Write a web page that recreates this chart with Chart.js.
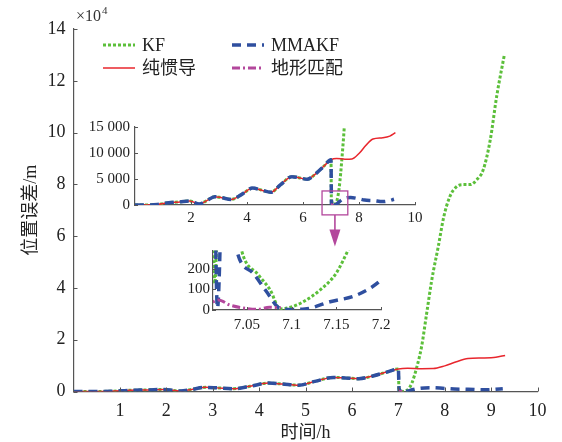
<!DOCTYPE html>
<html><head><meta charset="utf-8">
<script src="https://cdn.jsdelivr.net/npm/chart.js"></script>
<style>
html,body{margin:0;padding:0;background:#fff;}
#wrap{position:relative;width:562px;height:442px;background:#fff;}
#wrap canvas{position:absolute;left:0;top:0;}
</style></head><body>
<div id="wrap">
<canvas id="main" width="562" height="442"></canvas>
<canvas id="inset1" width="562" height="442"></canvas>
<canvas id="inset2" width="562" height="442"></canvas>
</div>
<script>
// ---------------- data (hours, position error in metres) ----------------
const seriesNames = ['KF', '纯惯导', 'MMAKF', '地形匹配'];

// part common to KF, pure INS and MMAKF (identical curves before ~7 h)
const sharedHours = [0, 0.4, 0.8, 1.2, 1.6, 1.95, 2.3, 2.55, 2.85, 3.1, 3.45, 3.8, 4.2, 4.5, 4.85, 5.2, 5.6, 5.85, 6.15, 6.45, 6.75, 7.0];
const sharedErr   = [0, 0, 100, 450, 600, 780, 180, 800, 1600, 1400, 1080, 2000, 3250, 2900, 2440, 3900, 5450, 5250, 4950, 6000, 7500, 8700];

const insHours = [7.2, 7.5, 7.75, 8.0, 8.25, 8.5, 8.85, 9.1, 9.3];
const insErr   = [8950, 8800, 8850, 9900, 11500, 12700, 12950, 13250, 13900];

const kfHours = [7.014, 7.02, 7.044, 7.063, 7.076, 7.087, 7.1, 7.113, 7.132, 7.15, 7.163, 7.2, 7.29, 7.4, 7.5, 7.61, 7.72, 7.86, 7.98, 8.11, 8.26, 8.4, 8.55, 8.69, 8.83, 8.98, 9.12, 9.28];
const kfErr   = [130, 900, 290, 170, 98, 5, 15, 40, 98, 180, 290, 620, 3200, 9600, 17300, 30200, 43100, 56000, 67600, 75300, 79200, 79900, 79900, 81800, 85700, 97200, 114200, 129700];

const mmHours = [7.017, 7.024, 7.0385, 7.057, 7.072, 7.087, 7.1, 7.115, 7.143, 7.173, 7.2, 7.3, 7.45, 7.7, 7.95, 8.2, 8.5, 8.85, 9.05, 9.25];
const mmErr   = [10, 800, 293, 179, 89, 8, 3, 5, 40, 73, 146, 650, 1200, 1450, 1250, 950, 850, 650, 800, 1100];

const tmHours = [7.0, 7.012, 7.018, 7.031, 7.049, 7.062, 7.075, 7.088];
const tmErr   = [25, 40, 49, 24, 8, 3, 13, 11];

// ticks
const mainXTicks = [1, 2, 3, 4, 5, 6, 7, 8, 9, 10];
const mainYTicks = [0, 2, 4, 6, 8, 10, 12, 14];
const inset1XTicks = [2, 4, 6, 8, 10];
const inset1YTicks = [0, 5000, 10000, 15000];
const inset1YLabels = ['0', '5 000', '10 000', '15 000'];
const zoomXTicks = [7.05, 7.1, 7.15, 7.2];
const zoomXLabels = ['7.05', '7.1', '7.15', '7.2'];
const zoomYTicks = [0, 100, 200];

// magnifier box in the first inset (data coordinates) and arrow tip
const boxHours = [6.68, 7.6];
const boxErr = [-1900, 2700];
const arrowTip = [7.14, -8000];

// ---------------- styles ----------------
const FONT = '"Liberation Serif","Noto Sans CJK SC",serif';
const AXIS = '#555';
Chart.defaults.font.family = FONT;
Chart.defaults.color = '#222';
Chart.defaults.animation = false;

const styles = {
  'KF':      {borderColor: '#5cbf3a', borderWidth: 3,   borderDash: [3, 2]},
  '纯惯导':   {borderColor: '#e8262d', borderWidth: 1.5, borderDash: []},
  'MMAKF':   {borderColor: '#2f4f9f', borderWidth: 3.5, borderDash: [9, 6]},
  '地形匹配': {borderColor: '#b3479c', borderWidth: 3,   borderDash: [8, 3, 2, 3]}
};

function pts(hs, vs, k) { return hs.map((h, i) => ({x: h, y: vs[i] / k})); }

function makeDatasets(k) {
  const data = {
    'KF': pts(sharedHours.concat(kfHours), sharedErr.concat(kfErr), k),
    '纯惯导': pts(sharedHours.concat(insHours), sharedErr.concat(insErr), k),
    'MMAKF': pts(sharedHours.concat(mmHours), sharedErr.concat(mmErr), k),
    '地形匹配': pts(tmHours, tmErr, k)
  };
  // first = drawn on top
  return ['地形匹配', 'MMAKF', '纯惯导', 'KF'].map(n => Object.assign({
    label: n, data: data[n], pointRadius: 0, fill: false,
    cubicInterpolationMode: 'monotone', tension: 0.4,
    borderCapStyle: 'butt'
  }, styles[n]));
}

const inTicks = {
  id: 'inTicks',
  afterDraw(chart, args, o) {
    const ctx = chart.ctx, {x, y} = chart.scales, a = chart.chartArea;
    ctx.save();
    ctx.strokeStyle = AXIS; ctx.lineWidth = 1; ctx.setLineDash([]);
    x.ticks.forEach(t => {
      const px = Math.round(x.getPixelForValue(t.value)) + 0.5;
      ctx.beginPath(); ctx.moveTo(px, a.bottom); ctx.lineTo(px, a.bottom - o.len); ctx.stroke();
    });
    y.ticks.forEach(t => {
      const py = Math.round(y.getPixelForValue(t.value)) + 0.5;
      ctx.beginPath(); ctx.moveTo(a.left, py); ctx.lineTo(a.left + o.len, py); ctx.stroke();
    });
    ctx.restore();
  }
};

function makeOptions(c) {
  const xh = c.xh;
  return {
    responsive: false, animation: false, events: [],
    layout: {padding: {left: 0, top: c.area.top, right: 562 - c.area.right, bottom: 442 - c.area.bottom - xh}},
    plugins: {legend: {display: false}, tooltip: {enabled: false}, inTicks: {len: c.tickLen}},
    scales: {
      x: {
        type: 'linear', min: c.xMin, max: c.xMax,
        grid: {display: false, drawTicks: false}, border: {display: true, color: AXIS, width: 1.2},
        ticks: {font: {size: c.fs}, color: '#222', padding: c.xPad, maxRotation: 0, autoSkip: false,
                callback: (v, i) => c.xLabels[i]},
        afterBuildTicks: s => { s.ticks = c.xTicks.map(v => ({value: v})); },
        afterFit: s => { s.height = xh; s.paddingLeft = 0; s.paddingRight = 0; s.paddingTop = 0; s.paddingBottom = 0; },
        title: c.xTitle ? {display: true, text: c.xTitle, color: '#222', font: {size: 18, lineHeight: 1}, padding: {top: 0, bottom: 0}} : {display: false}
      },
      y: {
        type: 'linear', min: c.yMin, max: c.yMax,
        grid: {display: false, drawTicks: false}, border: {display: true, color: AXIS, width: 1.2},
        ticks: {font: {size: c.fs}, color: '#222', padding: c.yPad, autoSkip: false,
                callback: (v, i) => c.yLabels[i]},
        afterBuildTicks: s => { s.ticks = c.yTicks.map(v => ({value: v})); },
        afterFit: s => { s.width = c.area.left; s.paddingLeft = 0; s.paddingRight = 0; s.paddingTop = 0; s.paddingBottom = 0; },
        title: c.yTitle ? {display: true, text: c.yTitle, color: '#222', font: {size: 18}, padding: {top: 20, bottom: 0}} : {display: false}
      }
    }
  };
}

// ---------------- main chart ----------------
const legendPlugin = {
  id: 'legendAndExp',
  afterDraw(chart) {
    const ctx = chart.ctx;
    const slots = {'KF': [103, 45], '纯惯导': [103, 68], 'MMAKF': [232, 45], '地形匹配': [232, 68]};
    ctx.save();
    seriesNames.forEach(n => {
      const st = styles[n], [x, y] = slots[n];
      ctx.strokeStyle = st.borderColor; ctx.lineWidth = st.borderWidth; ctx.setLineDash(st.borderDash);
      ctx.beginPath(); ctx.moveTo(x, y); ctx.lineTo(x + 32, y); ctx.stroke();
      ctx.setLineDash([]);
      ctx.fillStyle = '#222'; ctx.font = '18px ' + FONT; ctx.textBaseline = 'middle'; ctx.textAlign = 'left';
      ctx.fillText(n, x + 39, y + 1);
    });
    // ×10^4 multiplier
    ctx.fillStyle = '#333'; ctx.textBaseline = 'alphabetic';
    ctx.font = '16px ' + FONT; ctx.fillText('×10', 76, 21);
    const w = ctx.measureText('×10').width;
    ctx.font = '11px ' + FONT; ctx.fillText('4', 76 + w + 1, 14);
    ctx.restore();
  }
};

new Chart(document.getElementById('main'), {
  type: 'line',
  data: {datasets: makeDatasets(1e4)},
  options: makeOptions({
    area: {left: 73.5, top: 29, right: 537.6, bottom: 391.5}, xh: 50.5,
    xMin: 0, xMax: 10, yMin: 0, yMax: 14,
    xTicks: mainXTicks, xLabels: mainXTicks.map(String),
    yTicks: mainYTicks, yLabels: mainYTicks.map(String),
    fs: 18, xPad: 9, yPad: 8, tickLen: 4,
    xTitle: '时间/h', yTitle: '位置误差/m'
  }),
  plugins: [inTicks, legendPlugin]
});

// ---------------- inset 1 ----------------
const boxPlugin = {
  id: 'magBox',
  afterDraw(chart) {
    const ctx = chart.ctx, {x, y} = chart.scales;
    const x0 = x.getPixelForValue(boxHours[0]), x1 = x.getPixelForValue(boxHours[1]);
    const y0 = y.getPixelForValue(boxErr[1]), y1 = y.getPixelForValue(boxErr[0]);
    const cx = x.getPixelForValue(arrowTip[0]), tipY = y.getPixelForValue(arrowTip[1]);
    ctx.save();
    ctx.strokeStyle = '#b3479c'; ctx.fillStyle = '#b3479c'; ctx.lineWidth = 1.3; ctx.setLineDash([]);
    ctx.strokeRect(x0, y0, x1 - x0, y1 - y0);
    ctx.lineWidth = 1.6;
    ctx.beginPath(); ctx.moveTo(cx, y1); ctx.lineTo(cx, tipY - 14); ctx.stroke();
    ctx.beginPath(); ctx.moveTo(cx - 5.5, tipY - 17); ctx.lineTo(cx + 5.5, tipY - 17); ctx.lineTo(cx, tipY); ctx.closePath(); ctx.fill();
    ctx.restore();
  }
};

new Chart(document.getElementById('inset1'), {
  type: 'line',
  data: {datasets: makeDatasets(1)},
  options: makeOptions({
    area: {left: 135, top: 127, right: 415, bottom: 205}, xh: 30,
    xMin: 0, xMax: 10, yMin: 0, yMax: 15000,
    xTicks: inset1XTicks, xLabels: inset1XTicks.map(String),
    yTicks: inset1YTicks, yLabels: inset1YLabels,
    fs: 15, xPad: 4, yPad: 5, tickLen: 3
  }),
  plugins: [inTicks, boxPlugin]
});

// ---------------- inset 2 ----------------
new Chart(document.getElementById('inset2'), {
  type: 'line',
  data: {datasets: makeDatasets(1)},
  options: makeOptions({
    area: {left: 213, top: 250.5, right: 381, bottom: 310}, xh: 30,
    xMin: 7.012, xMax: 7.2, yMin: 0, yMax: 290,
    xTicks: zoomXTicks, xLabels: zoomXLabels,
    yTicks: zoomYTicks, yLabels: zoomYTicks.map(String),
    fs: 15, xPad: 6, yPad: 3, tickLen: 3
  }),
  plugins: [inTicks]
});
</script>
</body></html>
